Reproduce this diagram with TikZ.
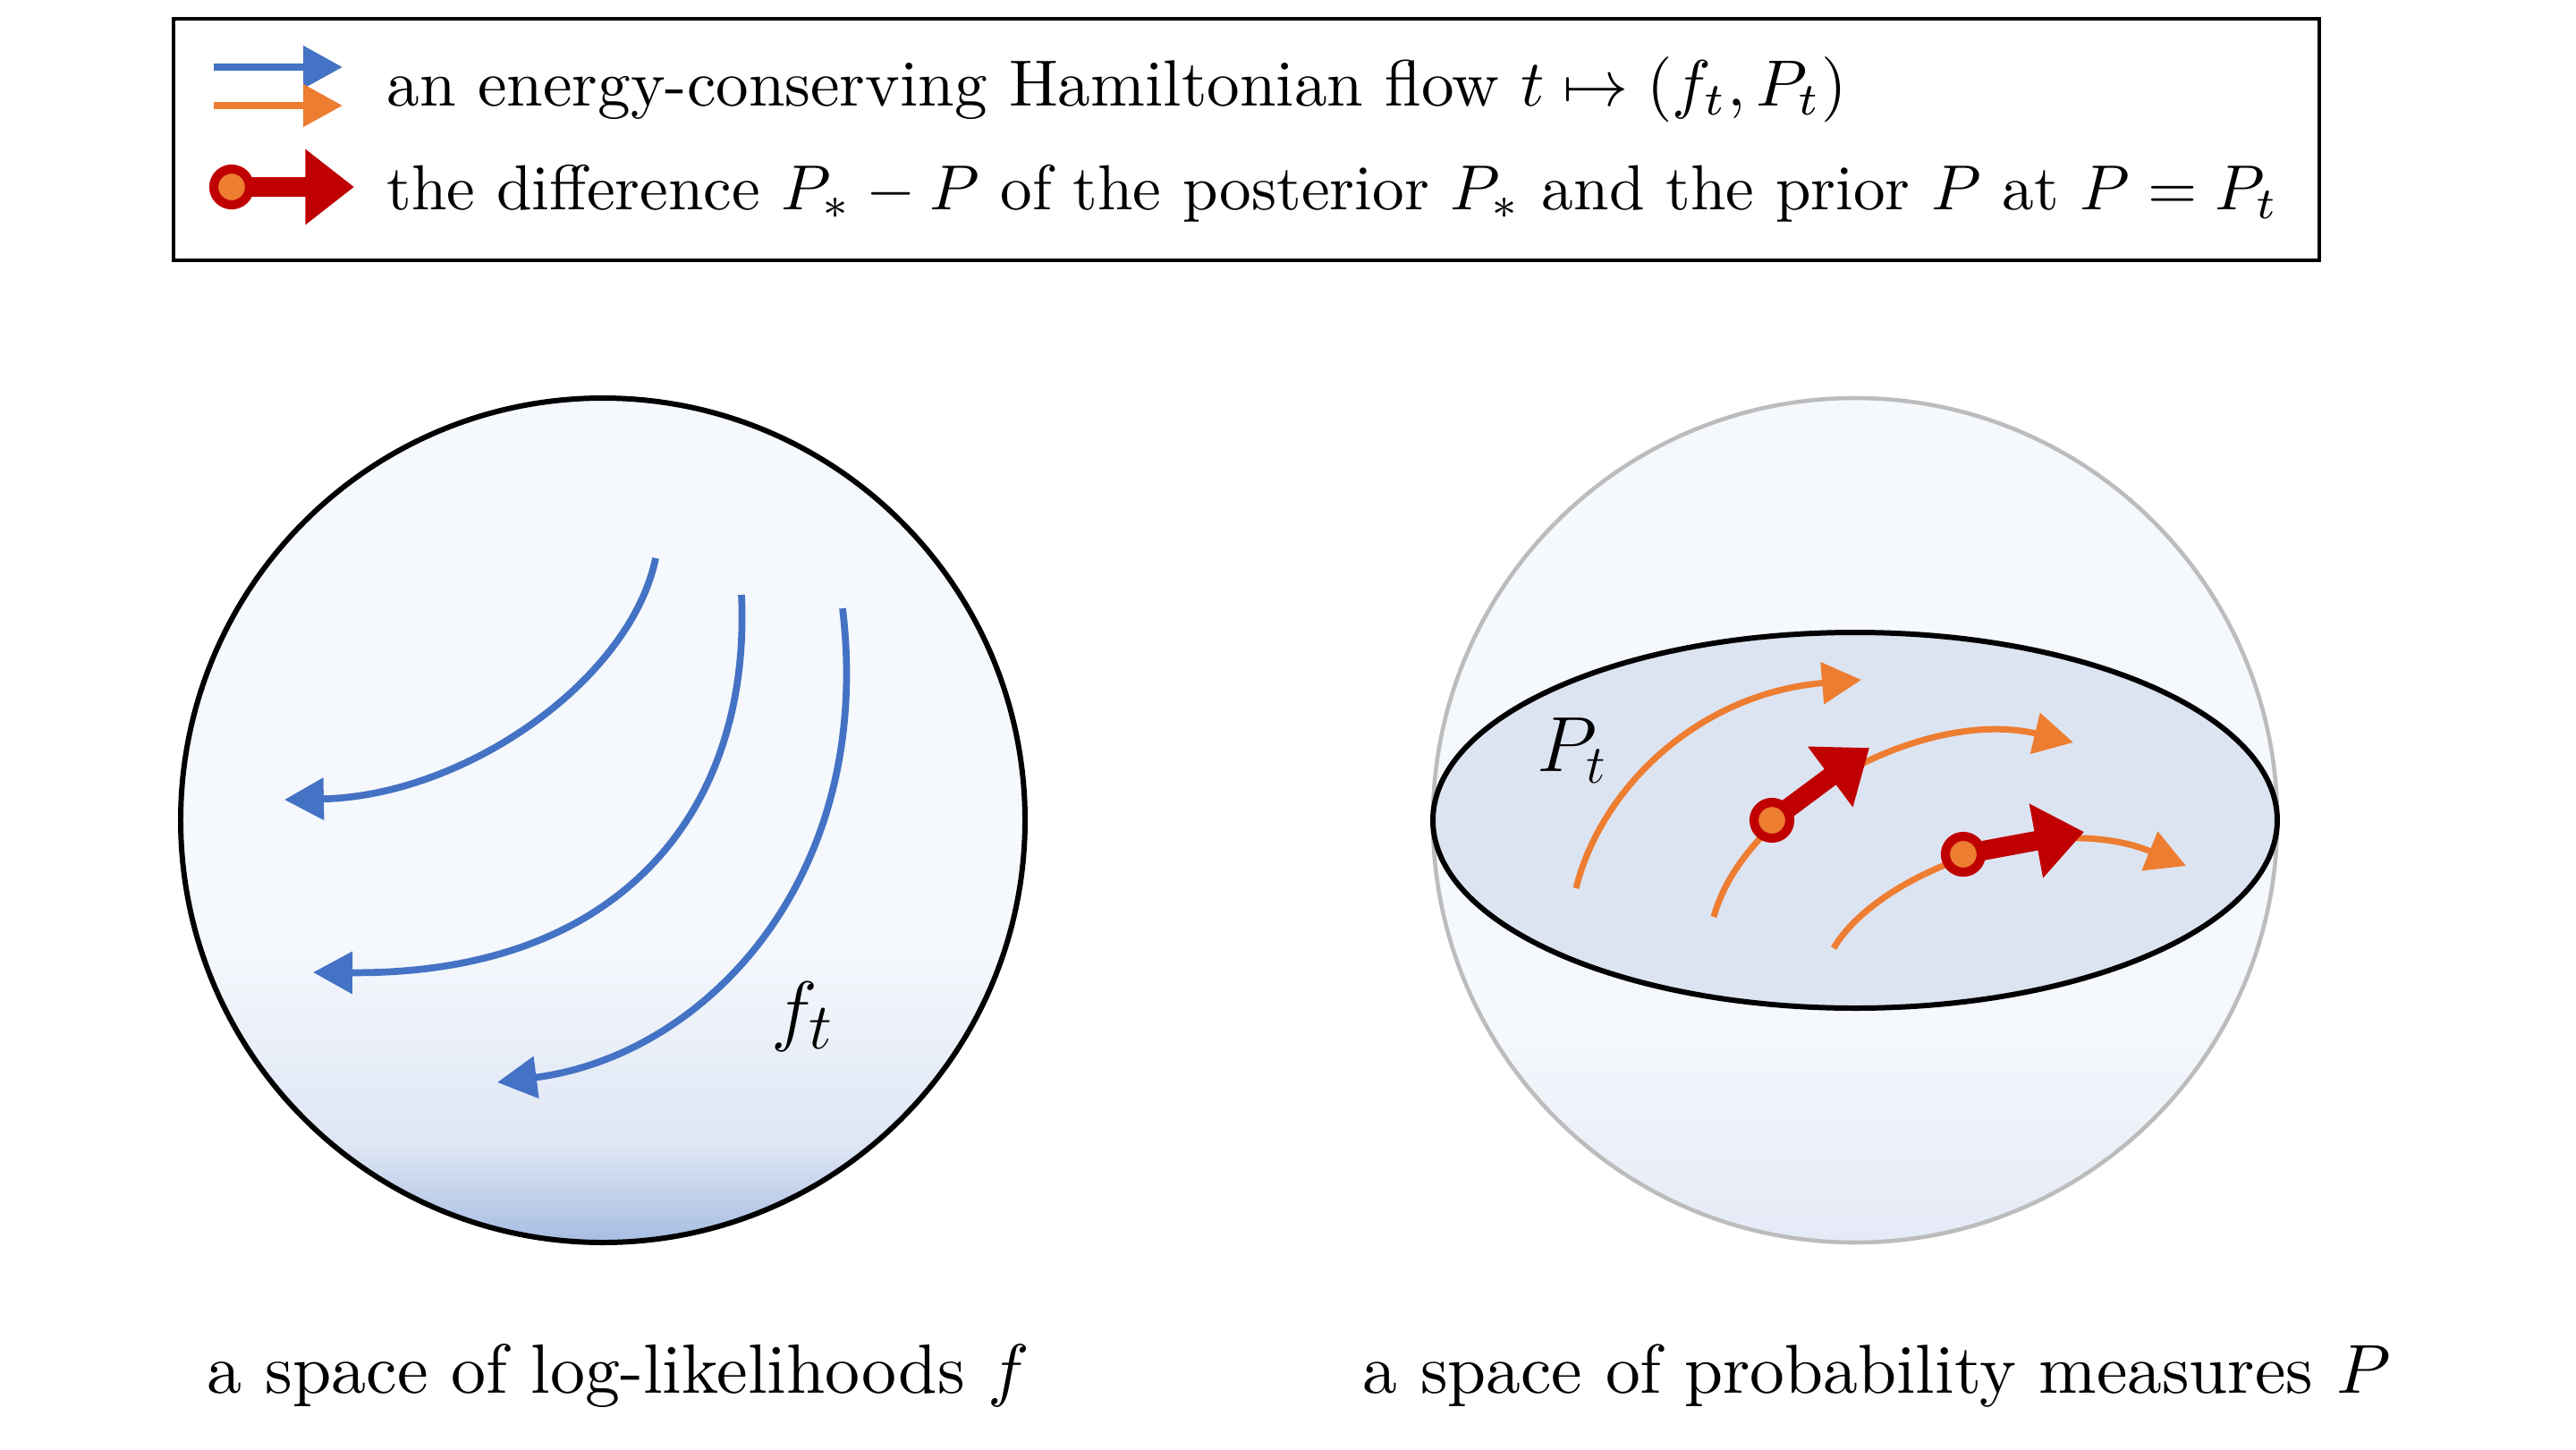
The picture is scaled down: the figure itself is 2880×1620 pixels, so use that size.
\documentclass[tikz,border=0pt]{standalone}
\usepackage{graphicx}
\usetikzlibrary{arrows.meta}
\definecolor{flowblue}{RGB}{68,114,196}
\definecolor{floworange}{RGB}{237,125,49}
\definecolor{diffred}{RGB}{192,0,0}
\definecolor{spherelight}{RGB}{245,248,252}
\definecolor{spheremid}{RGB}{222,230,244}
\definecolor{spheredark}{RGB}{166,188,226}
\definecolor{rightbottom}{RGB}{228,234,246}
\definecolor{discfill}{RGB}{221,228,241}
\definecolor{spheregray}{RGB}{188,188,188}
\tikzset{
  blueflow/.style={draw=flowblue, line width=2.2pt, -{Triangle[length=12.5pt,width=13pt]}},
  orangeflow/.style={draw=floworange, line width=2pt, -{Triangle[length=12.5pt,width=13pt]}},
  legflow/.style={line width=2.4pt, -{Triangle[length=12.5pt,width=13pt]}},
  diffarrow/.style={draw=diffred, line width=6.2pt, -{Triangle[length=15.5pt,width=23pt]}},
  diffdot/.style={fill=floworange, draw=diffred, line width=2.9pt},
  lbl/.style={inner sep=0pt, anchor=base west},
  biglbl/.style={inner sep=0pt, anchor=base west, font=\fontsize{30}{34}\selectfont},
}
\begin{document}
\begin{tikzpicture}[x=0.01cm,y=-0.01cm]
\useasboundingbox[fill=white] (0,0) rectangle (2880,1620);

% ---------- legend ----------
\node[draw, line width=1.1pt, minimum width=23.97cm, minimum height=2.70cm, inner sep=0pt] (legend) at (1393.5,156) {};
\coordinate (lb1) at (239,75);  \coordinate (lb2) at (383,75);
\coordinate (lo1) at (239,118); \coordinate (lo2) at (383,118);
\coordinate (lr1) at (259,209); \coordinate (lr2) at (396,209);
\draw[legflow, draw=flowblue] (lb1) -- (lb2);
\draw[legflow, draw=floworange] (lo1) -- (lo2);
\draw[diffarrow] (lr1) -- (lr2);
\path[diffdot] (lr1) circle[radius=20];
\node[lbl] (leg1) at (432,118) {\resizebox{16.31cm}{!}{an energy-conserving Hamiltonian flow $t \mapsto (f_t, P_t)$}};
\node[lbl] (leg2) at (432,234) {\resizebox{21.13cm}{!}{the difference $P_* - P$ of the posterior $P_*$ and the prior $P$ at $P = P_t$}};

% ---------- left sphere ----------
\coordinate (lc) at (674,917);
\begin{scope}
  \clip (lc) circle[radius=472];
  \fill[spherelight] (lc) circle[radius=472];
  \shade[top color=spherelight, bottom color=spheremid] (150,1060) rectangle (1200,1280);
  \shade[top color=spheremid, bottom color=spheredark] (150,1279) rectangle (1200,1392);
\end{scope}
\draw[line width=1.7pt] (lc) circle[radius=472];

\coordinate (a1s) at (733,624);  \coordinate (a1e) at (318,894);
\coordinate (a2s) at (829,665);  \coordinate (a2e) at (350,1087);
\coordinate (a3s) at (942,680);  \coordinate (a3e) at (556,1210);
\draw[blueflow] (a1s) .. controls (705,760) and (520,890) .. (a1e);
\draw[blueflow] (a2s) .. controls (840,900) and (700,1090) .. (a2e);
\draw[blueflow] (a3s) .. controls (978,980) and (790,1180) .. (a3e);
\node[biglbl] (ft) at (862,1158) {$f_t$};

% ---------- right sphere ----------
\coordinate (rc) at (2074,917);
\begin{scope}
  \clip (rc) circle[radius=472];
  \fill[spherelight] (rc) circle[radius=472];
  \shade[top color=spherelight, bottom color=rightbottom] (1550,1150) rectangle (2600,1392);
\end{scope}
\draw[spheregray, line width=1.3pt] (rc) circle[radius=472];
\draw[line width=1.7pt, fill=discfill] (rc) ellipse[x radius=472, y radius=210];

\coordinate (o1s) at (1762,993);  \coordinate (o1e) at (2081,760);
\coordinate (o2s) at (1916,1025); \coordinate (o2e) at (2318,830);
\coordinate (o3s) at (2050,1060); \coordinate (o3e) at (2444,968);
\draw[orangeflow] (o1s) .. controls (1790,880) and (1900,775) .. (o1e);
\draw[orangeflow] (o2s) .. controls (1950,900) and (2150,790) .. (o2e);
\draw[orangeflow] (o3s) .. controls (2100,975) and (2290,905) .. (o3e);

\coordinate (d1) at (1981,917); \coordinate (t1) at (2090,836);
\coordinate (d2) at (2195,955); \coordinate (t2) at (2330,930);
\draw[diffarrow] (d1) -- (t1);
\path[diffdot] (d1) circle[radius=20];
\draw[diffarrow] (d2) -- (t2);
\path[diffdot] (d2) circle[radius=20];
\node[biglbl, font=\fontsize{25.5}{29}\selectfont] (pt) at (1718,862) {$P_t$};

% ---------- captions ----------
\node[lbl] (capl) at (231,1557) {\resizebox{9.19cm}{!}{a space of log-likelihoods $f$}};
\node[lbl] (capr) at (1523,1557) {\resizebox{11.48cm}{!}{a space of probability measures $P$}};
\end{tikzpicture}
\end{document}
